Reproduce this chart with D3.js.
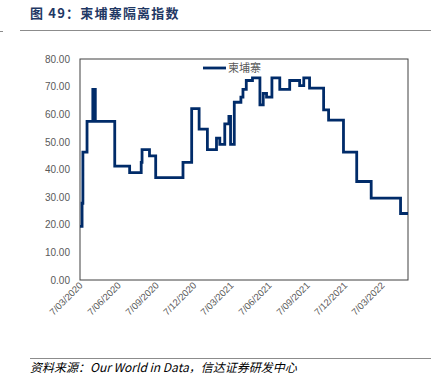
<!DOCTYPE html>
<html><head><meta charset="utf-8">
<script src="https://cdn.jsdelivr.net/npm/d3@7"></script>
<style>
body{margin:0;background:#fff;}
svg{display:block;}
</style></head>
<body>
<svg id="c" width="441" height="385"></svg>
<script>
const seriesName = "柬埔寨";
const dates = ["2020-03-05","2020-03-10","2020-03-12","2020-03-22","2020-04-05","2020-04-11","2020-05-28","2020-07-03","2020-07-31","2020-08-02","2020-08-20","2020-09-04","2020-11-09","2020-11-30","2020-12-18","2021-01-07","2021-01-29","2021-02-06","2021-02-18","2021-02-28","2021-03-04","2021-03-13","2021-03-29","2021-04-03","2021-04-11","2021-04-26","2021-05-14","2021-05-22","2021-05-30","2021-06-12","2021-07-01","2021-07-25","2021-08-18","2021-08-28","2021-09-11","2021-10-15","2021-10-27","2021-12-02","2022-01-03","2022-02-07","2022-04-19","2022-05-07"];
const values = [19.44,27.78,46.3,57.41,68.98,57.41,41.2,38.89,42.59,47.22,44.91,37.04,42.59,62.04,54.63,47.22,51.39,49.07,56.48,59.26,49.07,64.35,66.2,68.98,72.22,73.15,63.43,67.59,66.2,73.15,68.98,72.22,70.37,73.15,69.44,61.57,57.87,46.3,35.65,29.63,24.07,24.07];
const xTickDates = ["2020-03-07","2020-06-07","2020-09-07","2020-12-07","2021-03-07","2021-06-07","2021-09-07","2021-12-07","2022-03-07"];
const yTicks = [0,10,20,30,40,50,60,70,80];

const parse = d3.timeParse("%Y-%m-%d");
const data = dates.map((d,i)=>({date:parse(d), v:values[i]}));
const svg = d3.select("#c");
const L=80,R=408,T=59,B=280;

const x = d3.scaleTime().domain([parse("2020-03-05"),parse("2022-05-07")]).range([L,R]);
const y = d3.scaleLinear().domain([0,80]).range([B,T]);

// title
svg.append("text").attr("x",30).attr("y",18)
  .attr("font-family","'Noto Sans CJK SC','Noto Sans',sans-serif")
  .attr("font-size",13).attr("font-weight","bold").attr("fill","#1f3864")
  .attr("letter-spacing",1.2)
  .text("图 49：柬埔寨隔离指数");
svg.append("line").attr("x1",20).attr("x2",431).attr("y1",30.5).attr("y2",30.5)
  .attr("stroke","#8c8c8c").attr("stroke-width",1.2);
svg.append("line").attr("x1",0).attr("x2",3).attr("y1",31.5).attr("y2",31.5)
  .attr("stroke","#8c8c8c").attr("stroke-width",1);

// plot frame
svg.append("rect").attr("x",L).attr("y",T).attr("width",R-L).attr("height",B-T)
  .attr("fill","none").attr("stroke","#404040").attr("stroke-width",1);

// y axis labels
const ya = svg.append("g").attr("transform",`translate(${L},0)`)
  .call(d3.axisLeft(y).tickValues(yTicks).tickSize(0).tickPadding(10).tickFormat(d3.format(".2f")));
ya.select(".domain").remove();
ya.selectAll("text").attr("font-family","'Liberation Sans',Arial,sans-serif").attr("font-size",10).attr("fill","#595959");

// x axis labels
const fmt = d3.timeFormat("%-d/%m/%Y");
const xa = svg.append("g").attr("transform",`translate(0,${B})`)
  .call(d3.axisBottom(x).tickValues(xTickDates.map(parse)).tickSize(0).tickPadding(0).tickFormat(fmt));
xa.select(".domain").remove();
xa.selectAll("text").attr("font-family","'Liberation Sans',Arial,sans-serif").attr("font-size",9.5).attr("fill","#595959")
  .attr("text-anchor","end").attr("dy","0").attr("transform","translate(2,6) rotate(-45)");

// line
const line = d3.line().x(d=>x(d.date)).y(d=>y(d.v)).curve(d3.curveStepAfter);
svg.append("path").datum(data).attr("d",line).attr("fill","none")
  .attr("stroke","#002b69").attr("stroke-width",2.8).attr("stroke-linejoin","miter");

// legend
svg.append("line").attr("x1",203).attr("x2",226).attr("y1",68).attr("y2",68)
  .attr("stroke","#002b69").attr("stroke-width",2.8);
svg.append("text").attr("x",228).attr("y",72)
  .attr("font-family","'Noto Sans CJK SC',sans-serif").attr("font-size",11).attr("fill","#595959")
  .text(seriesName);

// source
svg.append("line").attr("x1",30).attr("x2",431).attr("y1",358.5).attr("y2",358.5)
  .attr("stroke","#8c8c8c").attr("stroke-width",1.2);
svg.append("text").attr("x",30).attr("y",372)
  .attr("font-family","'Noto Sans CJK SC','Liberation Sans',sans-serif").attr("font-size",12)
  .attr("font-style","italic").attr("fill","#000")
  .text("资料来源：Our World in Data，信达证券研发中心");
</script>
</body></html>
